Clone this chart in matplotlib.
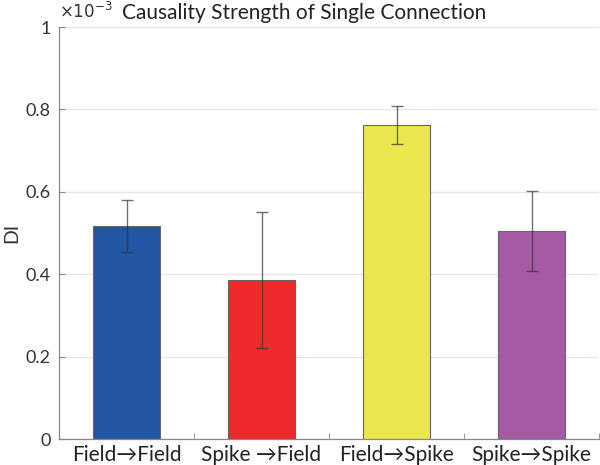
import matplotlib
matplotlib.use("Agg")
import matplotlib.pyplot as plt
import numpy as np
from matplotlib.ticker import FuncFormatter, FixedLocator

categories = ["Field\u2192Field", "Spike \u2192Field", "Field\u2192Spike", "Spike\u2192Spike"]
means = [0.516e-3, 0.386e-3, 0.763e-3, 0.504e-3]
errors = [0.063e-3, 0.166e-3, 0.046e-3, 0.097e-3]
colors = ["#2156A5", "#EE2A2B", "#EBE84F", "#A55BA3"]
yticks = [0, 0.2e-3, 0.4e-3, 0.6e-3, 0.8e-3, 1.0e-3]
scale = 1e-3

plt.rcParams['font.family'] = ['Lato', 'DejaVu Sans']

fig = plt.figure(figsize=(6, 4.65), dpi=100)
ax = fig.add_axes([59/600, 26/465, 540/600, 412/465])

x = np.arange(1, len(categories) + 1)
ax.bar(x, means, width=0.5, color=colors, edgecolor="#666666", linewidth=0.8, zorder=2)
ax.errorbar(x, means, yerr=errors, fmt='none', ecolor='#333333', alpha=0.7,
            elinewidth=1.0, capsize=4, capthick=1.0, zorder=3)

ax.set_xlim(0.5, 4.5)
ax.set_ylim(0, 1e-3)
ax.set_yticks(yticks)
ax.yaxis.grid(True, color='#e6e6e6', linewidth=0.9, zorder=0)
ax.set_axisbelow(True)
ax.yaxis.set_major_formatter(FuncFormatter(lambda v, p: f"{v/scale:g}"))

ax.set_xticks(x)
ax.set_xticklabels(categories, fontsize=15, color='#222222')
ax.tick_params(axis='x', length=0, pad=4)
ax.xaxis.set_minor_locator(FixedLocator([1.5, 2.5, 3.5, 4.5]))
ax.tick_params(axis='x', which='minor', length=4, direction='in', color='#888888')
ax.tick_params(axis='y', labelsize=13, labelcolor='#333333', length=4, direction='in',
               color='#888888', pad=6)

for s in ['top', 'right']:
    ax.spines[s].set_visible(False)
for s in ['left', 'bottom']:
    ax.spines[s].set_color('#888888')
    ax.spines[s].set_linewidth(0.9)

ax.set_ylabel('DI', fontsize=14, color='#333333', labelpad=4)
ax.text(0.0, 1.012, r'$\times10^{-3}$', transform=ax.transAxes,
        fontsize=12, color='#333333', ha='left', va='bottom',
        fontfamily='DejaVu Sans')
ax.text(0.117, 1.01, 'Causality Strength of Single Connection', transform=ax.transAxes,
        fontsize=15, color='#222222', ha='left', va='bottom')

fig.savefig('out.png', dpi=100)
